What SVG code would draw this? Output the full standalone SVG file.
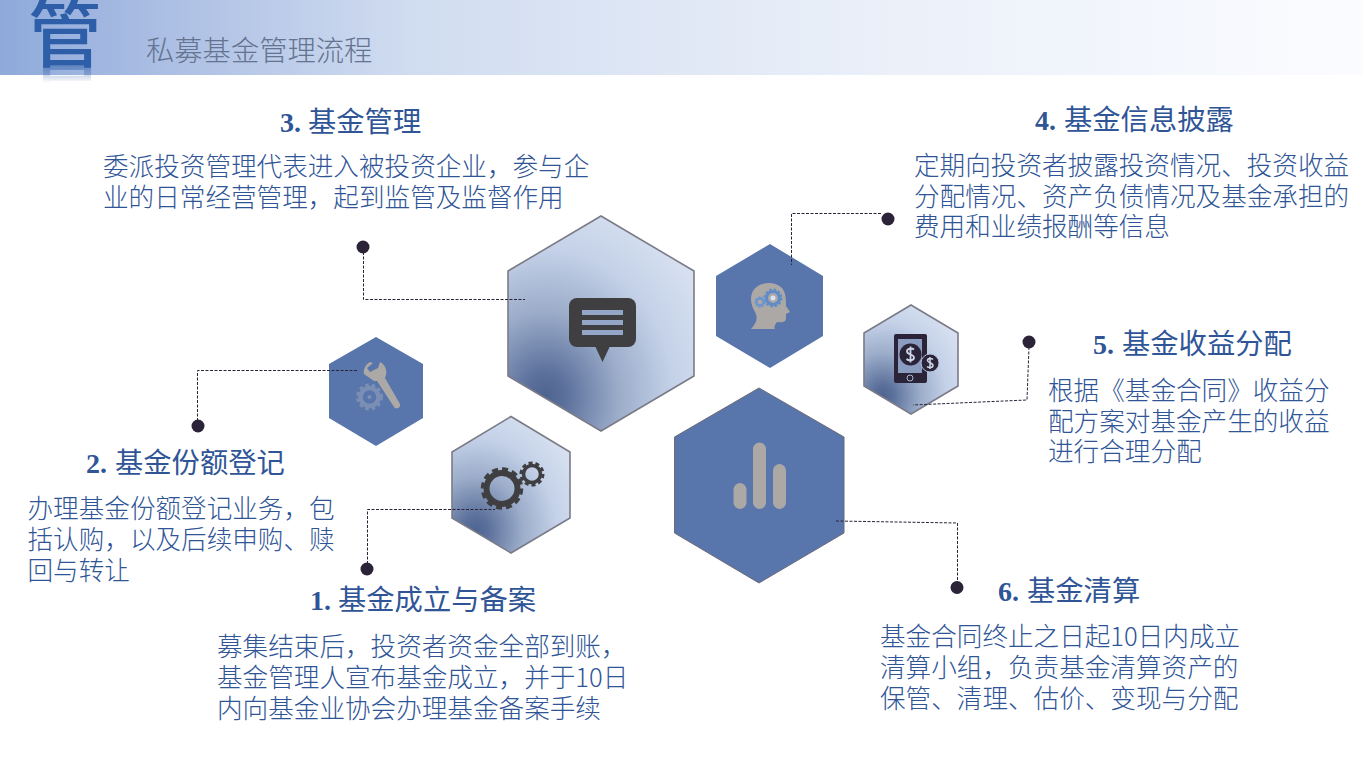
<svg xmlns="http://www.w3.org/2000/svg" xmlns:xlink="http://www.w3.org/1999/xlink" width="1362" height="764" viewBox="0 0 1362 764">
<style>
text{font-family:"Noto Sans CJK SC","Noto Sans",sans-serif}
.b{font-size:25.6px;fill:#2f5597;font-weight:300}
.h{font-size:28.3px;fill:#2f5597;font-weight:400}
.n{font-family:"Liberation Serif","Noto Sans CJK SC",serif;font-size:28px;font-weight:bold;fill:#2f5597}
.hx{stroke:#7b7b88;stroke-width:1.6;fill:url(#g)}
.hs{fill:#5875ac}
.c{fill:none;stroke:#2b2338;stroke-width:1;stroke-dasharray:3 1.500}
.d{fill:#2b2338}
.ic{fill:#3f3f42}
.gr{fill:#aca8a6}
</style>
<defs>
<linearGradient id="band" x1="0" x2="1" y1="0" y2="0"><stop offset="0" stop-color="#8eaadb"/><stop offset=".1" stop-color="#a7bbe2"/><stop offset=".3" stop-color="#d0dcf0"/><stop offset=".6" stop-color="#e8eef8"/><stop offset="1" stop-color="#fbfcff"/></linearGradient>
<radialGradient id="g" cx=".2" cy=".84" r=".95"><stop offset="0" stop-color="#4e638f"/><stop offset=".12" stop-color="#5c719c"/><stop offset=".42" stop-color="#9cadca"/><stop offset=".72" stop-color="#c4d1e8"/><stop offset="1" stop-color="#d6e0f0"/></radialGradient>
<linearGradient id="rf" gradientUnits="userSpaceOnUse" x1="0" x2="0" y1="65" y2="83"><stop offset="0" stop-color="#fff" stop-opacity=".55"/><stop offset="1" stop-color="#fff" stop-opacity="0"/></linearGradient>
<mask id="rm" maskUnits="userSpaceOnUse" x="20" y="65" width="90" height="18"><rect x="20" y="65" width="90" height="18" fill="url(#rf)"/></mask>
<text id="guan" x="28" y="61" font-size="74" font-weight="500" fill="#2f5ea8">管</text>
</defs>

<g id="header">
<rect width="1362" height="75" fill="url(#band)"/>
<use href="#guan"/>
<g mask="url(#rm)"><use href="#guan" transform="translate(0,130) scale(1,-1)"/></g>
<text x="146" y="61" font-size="28.3" fill="#64738f" font-weight="300">私募基金管理流程</text>
</g>

<g id="node-3">
<polygon class="hx" points="601,216 694,271 694,376 601,431 508,376 508,271"/>
<rect class="ic" x="569" y="298" width="67" height="49" rx="8"/>
<polygon class="ic" points="595,346 610,346 602.500,362"/>
<g fill="#93a6c7"><rect x="582" y="310" width="41" height="5"/><rect x="582" y="320" width="41" height="5"/><rect x="582" y="330" width="41" height="5"/></g>
<circle class="d" cx="363" cy="247" r="6.500"/>
<text class="n" x="280" y="132">3.</text><text class="h" x="308" y="132">基金管理</text>
<text class="b" x="103" y="176">委派投资管理代表进入被投资企业，参与企</text>
<text class="b" x="103" y="207">业的日常经营管理，起到监管及监督作用</text>
</g>

<g id="node-4">
<polygon class="hs" points="770,244 823,276 823,336 770,368 716,336 716,276"/>
<path class="gr" d="M751 329C757 322 758 318 755 312C751 305 750 299 752 293C756 283 773 279 782 288C786 293 786 300 786 306L790 312L786 314V318C786 322 782 323 777 322C774 326 774 328 775 329Z"/>
<circle cx="773" cy="298" r="6.500" fill="none" stroke="#5f8cc8" stroke-width="3"/>
<circle cx="773" cy="298" r="8.500" fill="none" stroke="#5f8cc8" stroke-width="2" stroke-dasharray="2.500 2"/>
<circle cx="773" cy="298" r="2.500" fill="#d8e4f3"/>
<circle cx="760" cy="302" r="3.500" fill="none" stroke="#6f96cc" stroke-width="2.500"/>
<circle cx="760" cy="302" r="5" fill="none" stroke="#6f96cc" stroke-width="1.500" stroke-dasharray="2 1.500"/>
<circle class="d" cx="888" cy="219" r="6.500"/>
<text class="n" x="1035" y="130">4.</text><text class="h" x="1064" y="130">基金信息披露</text>
<text class="b" x="914" y="175">定期向投资者披露投资情况、投资收益</text>
<text class="b" x="914" y="206">分配情况、资产负债情况及基金承担的</text>
<text class="b" x="914" y="236">费用和业绩报酬等信息</text>
</g>

<g id="node-5">
<polygon class="hx" points="911,305 958,333 958,386 911,414 864,386 864,333"/>
<rect x="894" y="334" width="33" height="49" rx="2" fill="#2b2338"/>
<rect x="898" y="339" width="24" height="34" fill="#8a9cc0"/>
<circle cx="910.500" cy="354.500" r="11" fill="#2b2338"/>
<circle cx="930" cy="363" r="9" fill="#2b2338" stroke="#b3c2de" stroke-width="1"/>
<path d="M914 349.500C912 348 907 348 907 351.500C907 355 914 354 914 357.500C914 361 908.500 361 906.500 359M910.500 346.500V362.500" fill="none" stroke="#cdd7ea" stroke-width="1.800"/>
<path d="M933 359.500C931.500 358 927.500 358 927.500 360.500C927.500 363 933 362.500 933 365.500C933 368 928.500 368 927 366.500M930 357V369" fill="none" stroke="#cdd7ea" stroke-width="1.500"/>
<circle cx="910" cy="378" r="3" fill="none" stroke="#aab8d2" stroke-width="1"/>
<circle class="d" cx="1029" cy="342" r="6.500"/>
<text class="n" x="1093" y="354">5.</text><text class="h" x="1122" y="354">基金收益分配</text>
<text class="b" x="1048" y="400">根据《基金合同》收益分</text>
<text class="b" x="1048" y="431">配方案对基金产生的收益</text>
<text class="b" x="1048" y="461">进行合理分配</text>
</g>

<g id="node-6">
<polygon points="759,388 844,437 844,533 759,583 674.500,533 674.500,437" fill="#5875ac" stroke="#6b6b78" stroke-width="1"/>
<rect class="gr" x="733.500" y="483" width="13" height="26" rx="6.500"/>
<rect class="gr" x="753" y="442.500" width="13" height="66.500" rx="6.500"/>
<rect class="gr" x="773" y="464" width="13" height="45" rx="6.500"/>
<circle class="d" cx="957" cy="587.500" r="6.500"/>
<text class="n" x="998" y="601">6.</text><text class="h" x="1027" y="601">基金清算</text>
<text class="b" x="880" y="646">基金合同终止之日起10日内成立</text>
<text class="b" x="880" y="677">清算小组，负责基金清算资产的</text>
<text class="b" x="880" y="708">保管、清理、估价、变现与分配</text>
</g>

<g id="node-2">
<polygon class="hs" points="376,337 423,364 423,418 376,446 329,418 329,364"/>
<circle cx="369.500" cy="397" r="9" fill="none" stroke="#7a8fb3" stroke-width="4.500"/>
<circle cx="369.500" cy="397" r="12" fill="none" stroke="#7a8fb3" stroke-width="3" stroke-dasharray="3.500 3"/>
<circle cx="369.500" cy="397" r="2" fill="#7a8fb3"/>
<path class="gr" d="M370 362C366 364 363 369 364 374L374 381L377 381L394 407C396 410 401 408 400 404L385 378C388 372 386 365 380 362L378 368L370 372L367 368L373 363Z"/>
<circle class="d" cx="198" cy="426" r="6.500"/>
<text class="n" x="86" y="473">2.</text><text class="h" x="115" y="473">基金份额登记</text>
<text class="b" x="27.500" y="518">办理基金份额登记业务，包</text>
<text class="b" x="27.500" y="549">括认购，以及后续申购、赎</text>
<text class="b" x="27.500" y="580">回与转让</text>
</g>

<g id="node-1">
<polygon class="hx" points="511,416.500 570,452 570,518 511,553 452,518 452,452"/>
<circle cx="502" cy="488.500" r="15.500" fill="none" stroke="#3f3f42" stroke-width="6"/>
<circle cx="502" cy="488.500" r="19" fill="none" stroke="#3f3f42" stroke-width="4.500" stroke-dasharray="6 4" pathLength="120"/>
<circle cx="532" cy="474" r="8.500" fill="none" stroke="#3f3f42" stroke-width="3.500"/>
<circle cx="532" cy="474" r="11" fill="none" stroke="#3f3f42" stroke-width="3" stroke-dasharray="3.500 2.500" pathLength="60"/>
<circle class="d" cx="367" cy="569" r="6.500"/>
<text class="n" x="310" y="610">1.</text><text class="h" x="338" y="610">基金成立与备案</text>
<text class="b" x="217" y="656">募集结束后，投资者资金全部到账，</text>
<text class="b" x="217" y="687">基金管理人宣布基金成立，并于10日</text>
<text class="b" x="217" y="718">内向基金业协会办理基金备案手续</text>
</g>

<g id="connectors">
<path class="c" d="M363.500 252V299.500H525"/>
<path class="c" d="M197.500 421V370.500H358"/>
<path class="c" d="M367.500 564V509.500H495"/>
<path class="c" d="M881 213.500H791.500V265"/>
<path class="c" d="M1029 347L1027 400L913 405"/>
<path class="c" d="M836 521L957.500 523V582"/>
</g>
</svg>
